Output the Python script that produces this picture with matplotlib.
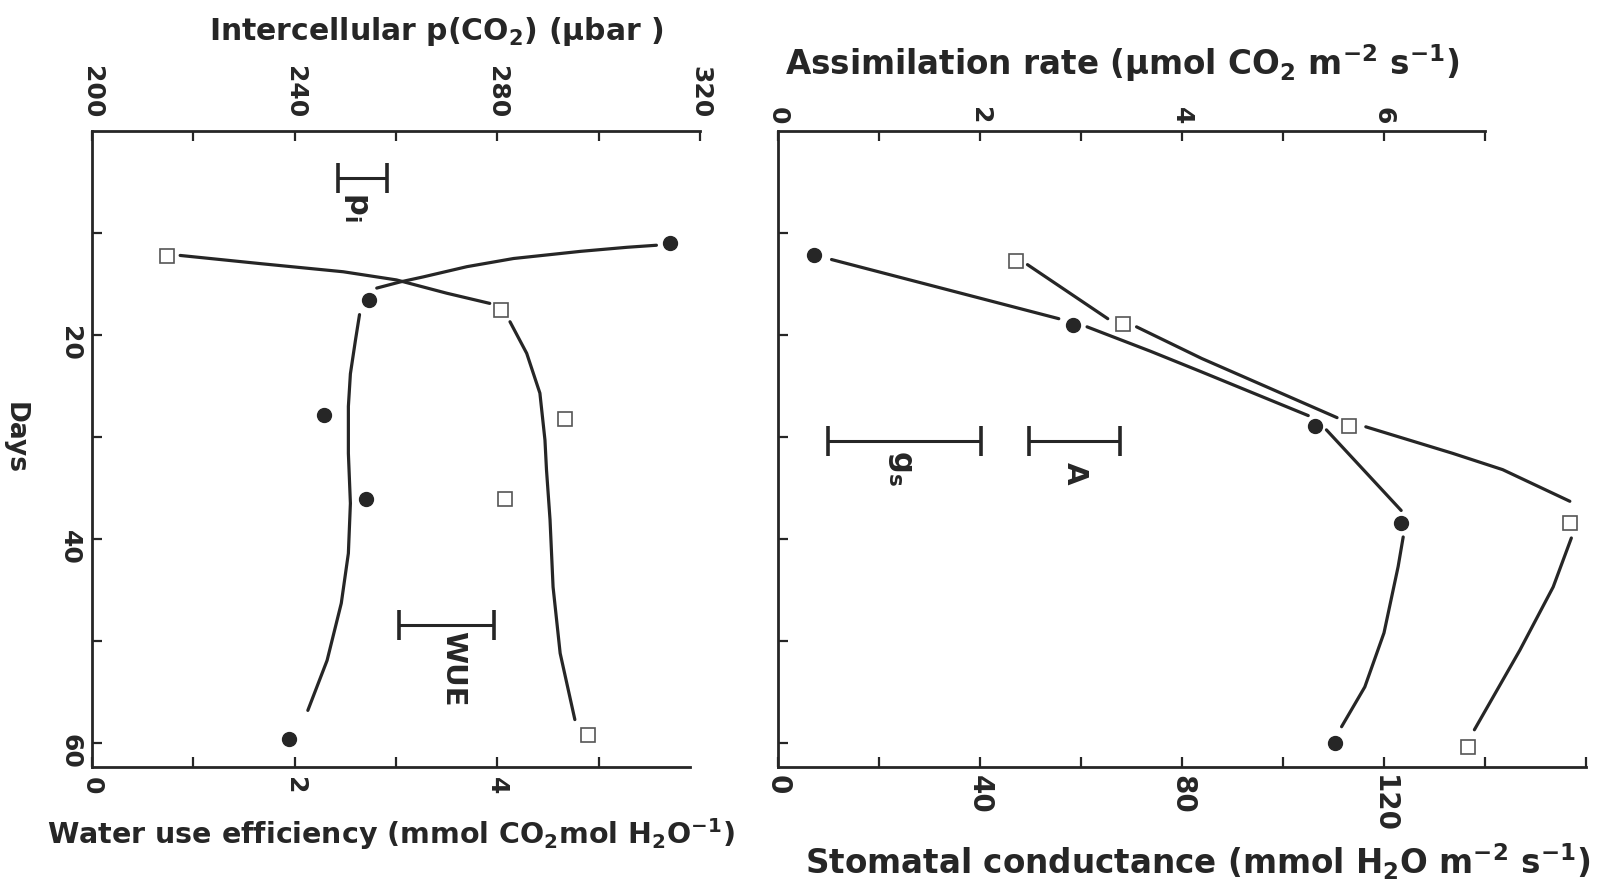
import numpy as np
import matplotlib
matplotlib.use("Agg")
import matplotlib.pyplot as plt

# ---- measured points -------------------------------------------------------
days_wue = [11.0, 16.6, 27.8, 36.1, 59.6]
wue      = [5.70, 2.73, 2.29, 2.70, 1.94]          # mmol CO2 / mol H2O
days_pi  = [12.3, 17.5, 28.2, 36.1, 59.2]
pi       = [214.9, 280.7, 293.3, 281.5, 297.9]     # ubar
days_A   = [12.2, 19.0, 28.9, 38.4, 60.0]
A        = [0.36, 2.92, 5.32, 6.17, 5.51]          # umol CO2 m-2 s-1
days_gs  = [12.7, 18.9, 28.9, 38.4, 60.4]
gs       = [47.1, 68.3, 113.1, 156.8, 136.6]       # mmol H2O m-2 s-1

# ---- hand-drawn fitted curves (traced, one list per stroke) ---------------
wue_fit = [([11.2, 11.4, 11.8, 12.5, 13.3, 14.3, 14.8, 15.4],
            [5.57, 5.28, 4.82, 4.16, 3.70, 3.27, 3.04, 2.81]),
           ([18.0, 20.5, 23.8, 27.0, 31.6, 36.5, 41.4, 46.3, 51.9, 56.8],
            [2.64, 2.60, 2.55, 2.53, 2.53, 2.55, 2.53, 2.46, 2.32, 2.13])]
pi_fit = [([12.2, 13.0, 13.8, 14.6, 15.9, 16.9],
           [217.4, 233.2, 249.6, 260.1, 270.0, 278.5]),
          ([18.7, 21.8, 25.7, 30.3, 33.2, 38.1, 44.7, 51.2, 57.7],
           [282.5, 285.8, 288.4, 289.4, 289.7, 290.4, 291.0, 292.4, 295.3])]
A_fit = [([12.6, 18.4], [0.53, 2.78]),
         ([19.2, 21.6, 23.6, 27.9], [3.06, 3.69, 4.19, 5.25]),
         ([29.3, 37.2], [5.43, 6.17]),
         ([39.8, 42.7, 49.2, 54.5, 58.4], [6.19, 6.14, 6.00, 5.81, 5.58])]
gs_fit = [([13.1, 18.4], [49.4, 65.3]),
          ([19.2, 22.3, 28.1], [71.0, 83.9, 110.7]),
          ([29.0, 31.6, 33.2, 36.3], [116.4, 133.6, 143.5, 156.8]),
          ([39.9, 44.7, 50.9, 58.7], [157.1, 153.5, 146.9, 137.9])]

# LSD-type bars: (centre, day, half width)
pi_bar  = (253.4, 4.6, 4.84)
wue_bar = (3.50, 48.4, 0.47)
gs_bar  = (25.0, 30.4, 15.1)
A_bar   = (2.94, 30.4, 0.45)

INK = "#262626"
plt.rcParams["font.family"] = ["DejaVu Sans"]
plt.rcParams["font.weight"] = "bold"
plt.rcParams["mathtext.fontset"] = "custom"
plt.rcParams["mathtext.bf"] = "DejaVu Sans:bold"
plt.rcParams["mathtext.rm"] = "DejaVu Sans:bold"
plt.rcParams["mathtext.default"] = "bf"
plt.rcParams["text.color"] = INK

W, H = 1604, 894
fig = plt.figure(figsize=(W / 100, H / 100), dpi=100)


def box(x0, x1, y0, y1):
    return [x0 / W, 1 - y1 / H, (x1 - x0) / W, (y1 - y0) / H]


def strokes(ax, fit):
    for d, v in fit:
        ax.plot(v, d, color=INK, lw=2.3, solid_capstyle="round")


def lsd(ax, bar, label, lx, ly, size):
    c, d, hw = bar
    ax.errorbar([c], [d], xerr=[hw], fmt="none", ecolor=INK, elinewidth=2.2,
                capsize=11, capthick=2.6)
    ax.text(lx, ly, label, rotation=-90, ha="center", va="center",
            fontsize=size, color=INK)


def style(ax, which_pad):
    ax.tick_params(direction="in", length=7, width=1.6, color=INK,
                   labelrotation=-90, labelsize=18, labelcolor=INK,
                   pad=which_pad)
    for s in ax.spines.values():
        s.set_linewidth(2.0)
        s.set_color(INK)


mk_c = dict(marker="o", ms=10, color=INK, ls="none", zorder=5)
mk_s = dict(marker="s", ms=10, mfc="white", mec="#555555", mew=1.2,
            ls="none", zorder=5)

# ---------------- left panel : WUE (bottom) and p_i (top) ------------------
axl = fig.add_axes(box(92, 700, 131, 767))
axl_t = axl.twiny()
axl.set_ylim(62.35, 0)
axl.set_xlim(0, 6.0)
axl_t.set_xlim(200, 320)

strokes(axl, wue_fit)
axl.plot(wue, days_wue, **mk_c)
strokes(axl_t, pi_fit)
axl_t.plot(pi, days_pi, **mk_s)
lsd(axl_t, pi_bar, "$p_i$", 252.3, 7.4, 22)
lsd(axl, wue_bar, "WUE", 3.56, 52.7, 21)

axl.set_yticks([10, 20, 30, 40, 50, 60], ["", "20", "", "40", "", "60"])
axl.set_xticks([0, 1, 2, 3, 4, 5], ["0", "", "2", "", "4", ""])
axl_t.set_xticks(np.arange(200, 321, 20),
                 ["200", "", "240", "", "280", "", "320"])
style(axl, 7)
style(axl_t, 9)
axl.spines["right"].set_visible(False)
axl.spines["top"].set_visible(False)
axl.spines["bottom"].set_bounds(0, 5.9)
for s in ["left", "right", "bottom"]:
    axl_t.spines[s].set_visible(False)

# ---------------- right panel : gs (bottom) and A (top) ---------------------
axr = fig.add_axes(box(778, 1586, 131, 767))
axr_t = axr.twiny()
axr.set_ylim(62.35, 0)
axr.set_xlim(0, 160)
axr_t.set_xlim(0, 8.0)

strokes(axr_t, A_fit)
axr_t.plot(A, days_A, **mk_c)
strokes(axr, gs_fit)
axr.plot(gs, days_gs, **mk_s)
lsd(axr, gs_bar, "$g_s$", 24.3, 33.0, 22)
lsd(axr_t, A_bar, "A", 2.94, 33.6, 21)

axr.set_yticks([10, 20, 30, 40, 50, 60], [""] * 6)
axr.set_xticks(np.arange(0, 161, 20),
               ["0", "", "40", "", "80", "", "120", "", ""])
axr_t.set_xticks(np.arange(0, 8), ["0", "", "2", "", "4", "", "6", ""])
style(axr, 6)
style(axr_t, 5)
axr.tick_params(axis="x", labelsize=20)
axr.spines["right"].set_visible(False)
axr.spines["top"].set_visible(False)
axr_t.spines["top"].set_bounds(0, 7)
for s in ["left", "right", "bottom"]:
    axr_t.spines[s].set_visible(False)

# ---------------- axis titles ------------------------------------------------
fig.text(436 / W, 1 - 31 / H, "Intercellular p(CO$_2$) ($\\mu$bar )",
         fontsize=21.5, ha="center", va="center")
fig.text(391 / W, 1 - 834 / H,
         "Water use efficiency (mmol CO$_2$mol H$_2$O$^{-1}$)",
         fontsize=20.5, ha="center", va="center")
fig.text(1122 / W, 1 - 63 / H,
         "Assimilation rate ($\\mu$mol CO$_2$ m$^{-2}$ s$^{-1}$)",
         fontsize=23.5, ha="center", va="center")
fig.text(1198 / W, 1 - 862 / H,
         "Stomatal conductance (mmol H$_2$O m$^{-2}$ s$^{-1}$)",
         fontsize=23.5, ha="center", va="center")
fig.text(15 / W, 1 - 438 / H, "Days", rotation=-90, fontsize=19,
         ha="center", va="center")

fig.savefig("out.png", dpi=100, facecolor="white")
